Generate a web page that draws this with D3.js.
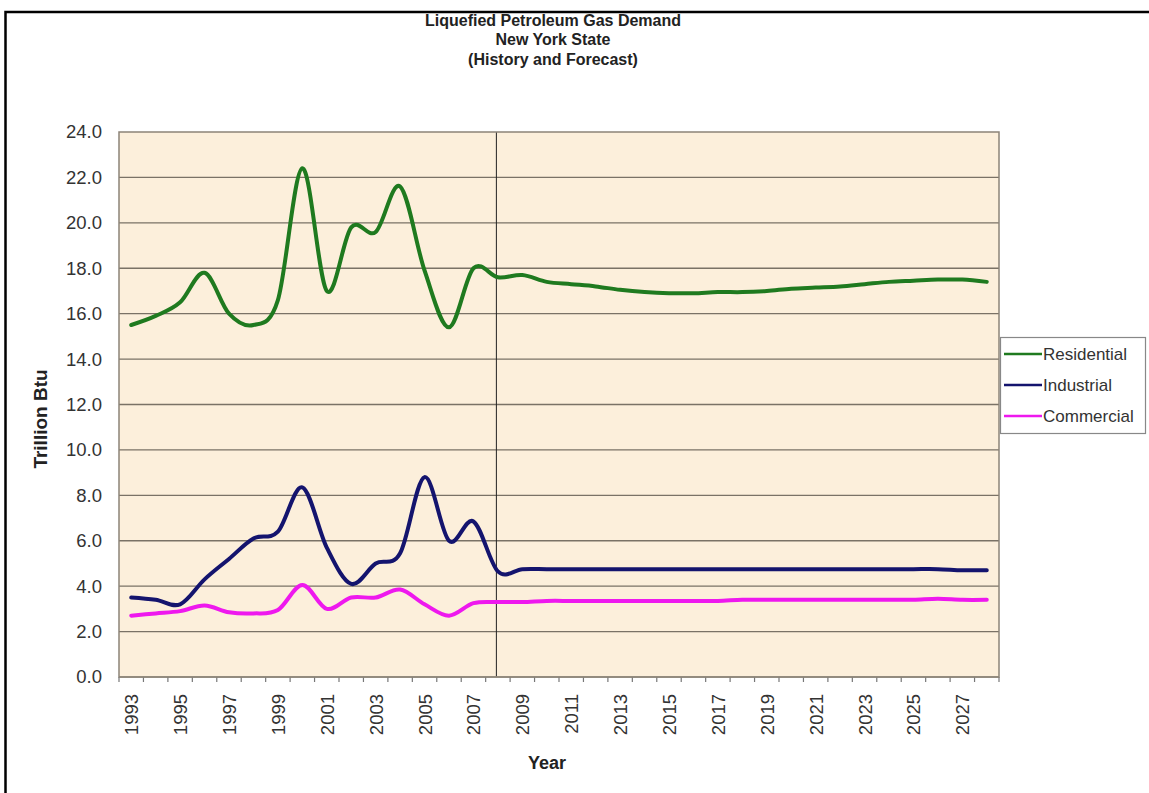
<!DOCTYPE html>
<html>
<head>
<meta charset="utf-8">
<script src="https://cdn.jsdelivr.net/npm/d3@7"></script>
<style>
  html, body { margin: 0; padding: 0; background: #ffffff; }
  svg { display: block; font-family: "Liberation Sans", Arial, sans-serif; }
</style>
</head>
<body>
<svg id="chart" width="1149" height="793"></svg>
<script>
// ---- data ----
const years = d3.range(1993, 2029);
const residential = [15.5, 15.9, 16.5, 17.8, 16.0, 15.5, 16.6, 22.4, 17.0, 19.8, 19.6, 21.6, 17.9, 15.4, 18.0, 17.6,
  17.7, 17.4, 17.3, 17.2, 17.05, 16.95, 16.9, 16.9, 16.95, 16.95, 17.0, 17.1, 17.15, 17.2, 17.3, 17.4, 17.45, 17.5, 17.5, 17.4];
const industrial = [3.5, 3.4, 3.2, 4.3, 5.2, 6.1, 6.4, 8.35, 5.7, 4.1, 5.0, 5.45, 8.8, 6.0, 6.85, 4.65,
  4.75, 4.75, 4.75, 4.75, 4.75, 4.75, 4.75, 4.75, 4.75, 4.75, 4.75, 4.75, 4.75, 4.75, 4.75, 4.75, 4.75, 4.75, 4.7, 4.7];
const commercial = [2.7, 2.8, 2.9, 3.15, 2.85, 2.8, 2.95, 4.05, 3.0, 3.5, 3.5, 3.85, 3.2, 2.7, 3.25, 3.3,
  3.3, 3.35, 3.35, 3.35, 3.35, 3.35, 3.35, 3.35, 3.35, 3.4, 3.4, 3.4, 3.4, 3.4, 3.4, 3.4, 3.4, 3.45, 3.4, 3.4];
const seriesNames = ["Residential", "Industrial", "Commercial"];
const seriesColors = ["#1f7a1f", "#14146e", "#ee18ee"];
const yTicks = [0, 2, 4, 6, 8, 10, 12, 14, 16, 18, 20, 22, 24];
const xLabelYears = years.filter(y => (y - 1993) % 2 === 0);
const forecastStart = 2008;
const titleLines = ["Liquefied Petroleum Gas Demand", "New York State", "(History and Forecast)"];

// ---- layout ----
const svg = d3.select("#chart");
const plot = { left: 119, right: 999, top: 132, bottom: 677 };

// outer border
svg.append("rect").attr("x", 5.5).attr("y", 12).attr("width", 1160).attr("height", 800)
  .attr("fill", "none").attr("stroke", "#000").attr("stroke-width", 2.5);

const x = d3.scaleBand().domain(years).range([plot.left, plot.right]).padding(0);
const y = d3.scaleLinear().domain([0, 24]).range([plot.bottom, plot.top]);
const cx = d => x(d) + x.bandwidth() / 2;

// plot background
svg.append("rect").attr("x", plot.left).attr("y", plot.top)
  .attr("width", plot.right - plot.left).attr("height", plot.bottom - plot.top)
  .attr("fill", "#fcefdb");

// gridlines
svg.append("g").selectAll("line").data(yTicks.filter(t => t > 0 && t < 24)).join("line")
  .attr("x1", plot.left).attr("x2", plot.right)
  .attr("y1", d => y(d)).attr("y2", d => y(d))
  .attr("stroke", "#7a7266").attr("stroke-width", 1.3);

// forecast divider
svg.append("line").attr("x1", cx(forecastStart) - 1.5).attr("x2", cx(forecastStart) - 1.5)
  .attr("y1", plot.top).attr("y2", plot.bottom)
  .attr("stroke", "#222").attr("stroke-width", 1);

// plot border
svg.append("rect").attr("x", plot.left).attr("y", plot.top)
  .attr("width", plot.right - plot.left).attr("height", plot.bottom - plot.top)
  .attr("fill", "none").attr("stroke", "#8c8478").attr("stroke-width", 1.5);

// y axis
const yAxis = d3.axisLeft(y).tickValues(yTicks).tickFormat(d3.format(".1f")).tickSize(0).tickPadding(17);
const gy = svg.append("g").attr("transform", `translate(${plot.left},0)`).call(yAxis);
gy.select(".domain").remove();
gy.selectAll("text").attr("font-size", 18.5).attr("fill", "#333")
  .attr("font-family", "Liberation Sans, Arial, sans-serif");

// x axis ticks at band boundaries
const gx = svg.append("g");
const boundaries = years.map(d => x(d)).concat([plot.right]);
gx.selectAll("line").data(boundaries).join("line")
  .attr("x1", d => d).attr("x2", d => d)
  .attr("y1", plot.bottom).attr("y2", plot.bottom + 5)
  .attr("stroke", "#777").attr("stroke-width", 1.2);
gx.append("line").attr("x1", plot.left).attr("x2", plot.right)
  .attr("y1", plot.bottom).attr("y2", plot.bottom).attr("stroke", "#8c8478").attr("stroke-width", 1.5);
gx.selectAll("text").data(xLabelYears).join("text")
  .attr("transform", d => `translate(${cx(d) + 7},${plot.bottom + 17}) rotate(-90)`)
  .attr("text-anchor", "end")
  .attr("font-size", 18.5).attr("fill", "#333")
  .text(d => d);

// axis titles
svg.append("text").attr("x", 547).attr("y", 769).attr("text-anchor", "middle")
  .attr("font-size", 18).attr("font-weight", "bold").attr("fill", "#222").text("Year");
svg.append("text").attr("transform", "translate(47,419) rotate(-90)").attr("text-anchor", "middle")
  .attr("font-size", 19).attr("font-weight", "bold").attr("fill", "#222").text("Trillion Btu");

// title
svg.append("g").selectAll("text").data(titleLines).join("text")
  .attr("x", 553).attr("y", (d, i) => 26 + i * 19.3).attr("text-anchor", "middle")
  .attr("font-size", 16).attr("font-weight", "bold").attr("fill", "#222")
  .text(d => d);

// lines
const line = d3.line().x((d, i) => cx(years[i])).y(d => y(d)).curve(d3.curveCardinal.tension(0));
const allSeries = [residential, industrial, commercial];
svg.append("g").selectAll("path").data(allSeries).join("path")
  .attr("d", d => line(d))
  .attr("fill", "none")
  .attr("stroke", (d, i) => seriesColors[i])
  .attr("stroke-width", 4)
  .attr("stroke-linejoin", "round").attr("stroke-linecap", "round");

// legend
const lg = svg.append("g");
lg.append("rect").attr("x", 1000.5).attr("y", 337.5).attr("width", 145).attr("height", 96)
  .attr("fill", "#fff").attr("stroke", "#888").attr("stroke-width", 1.2);
const rows = lg.selectAll("g.row").data(seriesNames).join("g").attr("class", "row")
  .attr("transform", (d, i) => `translate(1004,${354 + i * 31})`);
rows.append("line").attr("x1", 0).attr("x2", 38).attr("y1", 0).attr("y2", 0)
  .attr("stroke", (d, i) => seriesColors[i]).attr("stroke-width", 2.5);
rows.append("text").attr("x", 39).attr("y", 6).attr("font-size", 17).attr("fill", "#333").text(d => d);
</script>
</body>
</html>
